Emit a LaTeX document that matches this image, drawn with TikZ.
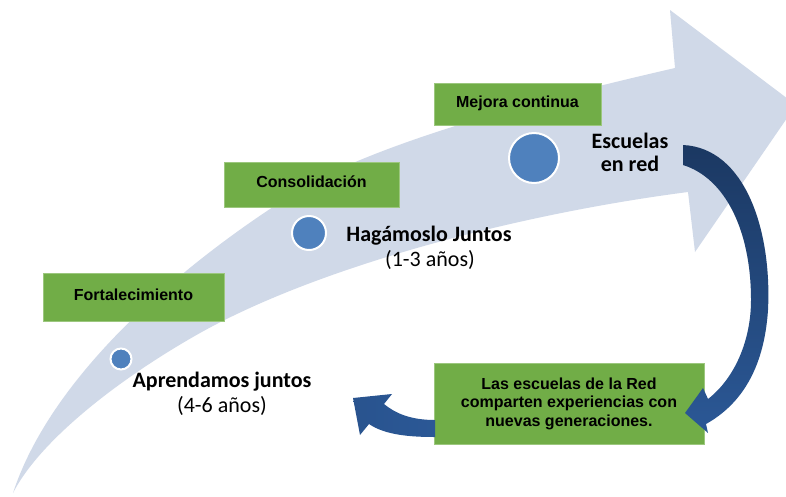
\documentclass[tikz,border=0pt]{standalone}
\usepackage{fontspec}
\setmainfont{Carlito}
\newfontfamily\arialf{Liberation Sans}
\definecolor{bandc}{HTML}{D0D9E8}
\definecolor{greenc}{HTML}{71AD47}
\definecolor{greenedge}{HTML}{9CC77E}
\definecolor{circc}{HTML}{4F81BD}
\definecolor{navyA}{HTML}{1B3862}
\definecolor{navyB}{HTML}{2B5896}
\begin{document}
\begin{tikzpicture}[x=1pt,y=-1pt,
  stagebox/.style={rectangle, fill=greenc, draw=greenedge, line width=0.8pt, inner sep=0pt,
    font=\arialf\bfseries\fontsize{16}{18.5}\selectfont, text=black, align=center},
  dot/.style={circle, fill=circc, draw=white, line width=2pt, inner sep=0pt},
  lbl/.style={font=\fontsize{22}{23}\selectfont, align=center, text=black, inner sep=0pt}]
\useasboundingbox (0,0) rectangle (786,496);
\fill[white] (0,0) rectangle (786,496);
% big curved arrow
\begin{scope}
\clip (0,0) rectangle (786,496);
\fill[bandc] (13,493) .. controls (50,380) and (170,275) .. (273,207)
  .. controls (353,144) and (575,91) .. (675,68)
  -- (670,10) -- (796,105) -- (695,252) -- (688,192)
  .. controls (518,214) and (320,266) .. (200,333)
  .. controls (120,378) and (40,440) .. (13,493) -- cycle;
\end{scope}
% stage boxes
\node[stagebox, minimum width=181pt, minimum height=48pt, text height=12pt, text depth=6pt] (fort) at (133.5,297) {Fortalecimiento};
\node[stagebox, minimum width=175pt, minimum height=45pt, text height=12pt, text depth=6pt] (cons) at (311.5,184.5) {Consolidación};
\node[stagebox, minimum width=167pt, minimum height=42pt, text height=12pt, text depth=6pt] (mejo) at (517.5,104) {Mejora continua};
\node[stagebox, minimum width=270pt, minimum height=81pt] (share) at (569,403.5) {Las escuelas de la Red\\comparten experiencias con\\nuevas generaciones.};
% dots
\node[dot, minimum size=50pt] (d3) at (534,158) {};
\node[dot, minimum size=34pt] (d2) at (309,233) {};
\node[dot, minimum size=21pt] (d1) at (121,359) {};
% labels
\node[lbl, font=\bfseries\fontsize{22}{23}\selectfont] (esc) at (630,152) {Escuelas\\en red};
\node[lbl, font=\bfseries\fontsize{22}{23}\selectfont] (hag) at (429,236) {Hagámoslo Juntos};
\node[lbl] (hag2) at (430,260) {(1-3 años)};
\node[lbl, font=\bfseries\fontsize{22}{23}\selectfont] (apr) at (222,382) {Aprendamos juntos};
\node[lbl] (apr2) at (222,406) {(4-6 años)};
% dark curved arrow from "Escuelas en red" down to the sharing box
\coordinate (a1s) at (683,145);
\shade[top color=navyA, bottom color=navyB]
  (a1s) .. controls (745,148) and (772,230) .. (768,310)
  .. controls (764,370) and (740,405) .. (706,424)
  -- (708,433) -- (685,413) -- (703,388) -- (708,399)
  .. controls (735,378) and (751,340) .. (751,300)
  .. controls (751,230) and (725,178) .. (683,165) -- cycle;
% dark curved arrow from the sharing box back to the start
\coordinate (a2s) at (435,420);
\shade[left color=navyB!85!navyA, right color=navyB]
  (a2s) .. controls (410,420) and (395,413) .. (384,404)
  -- (392,394) -- (353,398) -- (360,435) -- (369,424)
  .. controls (385,435) and (410,437) .. (435,437) -- cycle;
\end{tikzpicture}
\end{document}
